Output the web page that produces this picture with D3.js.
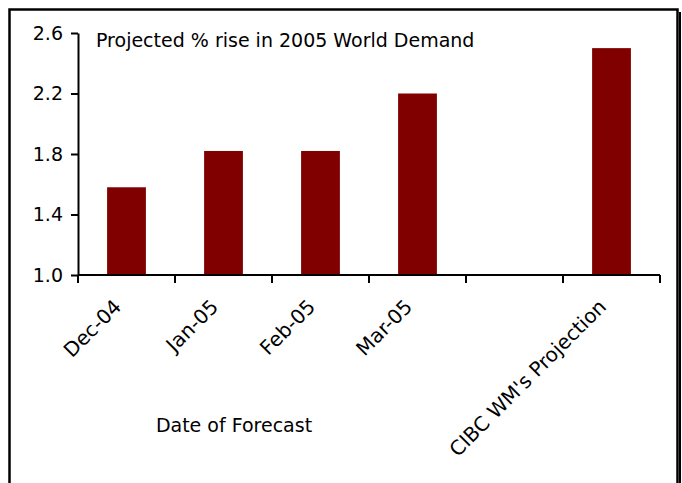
<!DOCTYPE html>
<html>
<head>
<meta charset="utf-8">
<script src="https://cdn.jsdelivr.net/npm/d3@7"></script>
<style>
  body { margin: 0; background: #fff; }
  svg { display: block; font-family: "DejaVu Sans", Verdana, sans-serif; }
</style>
</head>
<body>
<svg width="682" height="483"></svg>
<script>
// data
var categories = ["Dec-04", "Jan-05", "Feb-05", "Mar-05", "blank", "CIBC WM's Projection"];
var labels = ["Dec-04", "Jan-05", "Feb-05", "Mar-05", "", "CIBC WM's Projection"];
var values = [1.58, 1.82, 1.82, 2.2, null, 2.5];
var yTicks = [1.0, 1.4, 1.8, 2.2, 2.6];

var svg = d3.select("svg");
var fs = 19;

// outer frame + little shadow on the right
svg.append("rect")
    .attr("x", 9.5).attr("y", 9.5)
    .attr("width", 668).attr("height", 490)
    .attr("fill", "none")
    .attr("stroke", "#000")
    .attr("stroke-width", 2.5);
svg.append("line")
    .attr("x1", 680).attr("x2", 680)
    .attr("y1", 12).attr("y2", 483)
    .attr("stroke", "#000").attr("stroke-width", 2);

var plotLeft = 78, plotRight = 660, plotTop = 33, plotBottom = 275;

var x = d3.scaleBand()
    .domain(categories)
    .range([plotLeft, plotRight])
    .padding(0);

var y = d3.scaleLinear()
    .domain([1.0, 2.6])
    .range([plotBottom, plotTop]);

var barW = x.bandwidth() * 0.4;

svg.selectAll("rect.bar")
    .data(values.map(function (v, i) { return {c: categories[i], v: v}; })
        .filter(function (d) { return d.v != null; }))
    .enter()
    .append("rect")
    .attr("class", "bar")
    .attr("x", function (d) { return x(d.c) + (x.bandwidth() - barW) / 2; })
    .attr("y", function (d) { return y(d.v); })
    .attr("width", barW)
    .attr("height", function (d) { return y(1.0) - y(d.v); })
    .attr("fill", "#800000");

// y axis
var yAxis = d3.axisLeft(y)
    .tickValues(yTicks)
    .tickFormat(d3.format(".1f"))
    .tickSize(7)
    .tickSizeOuter(0)
    .tickPadding(8);

var gy = svg.append("g")
    .attr("transform", "translate(" + plotLeft + ",0)")
    .call(yAxis);
gy.select(".domain").attr("stroke-width", 2);
gy.selectAll(".tick line").attr("stroke-width", 2);
gy.selectAll("text").attr("font-size", fs).attr("fill", "#000")
    .attr("font-family", "DejaVu Sans");

// x axis line and boundary ticks
var edges = categories.map(function (c) { return x(c); }).concat([plotRight]);
svg.append("line")
    .attr("x1", plotLeft).attr("x2", plotRight)
    .attr("y1", plotBottom).attr("y2", plotBottom)
    .attr("stroke", "#000").attr("stroke-width", 2);
svg.selectAll("line.xtick")
    .data(edges)
    .enter()
    .append("line")
    .attr("class", "xtick")
    .attr("x1", function (d) { return d; })
    .attr("x2", function (d) { return d; })
    .attr("y1", plotBottom).attr("y2", plotBottom + 8)
    .attr("stroke", "#000").attr("stroke-width", 2);

// rotated category labels
svg.selectAll("text.xlab")
    .data(categories)
    .enter()
    .append("text")
    .attr("class", "xlab")
    .attr("text-anchor", "end")
    .attr("font-size", 20)
    .attr("transform", function (d) {
        return "translate(" + (x(d) + x.bandwidth() / 2 - 4) + "," + (plotBottom + 33) + ") rotate(-45)";
    })
    .text(function (d, i) { return labels[i]; });

// titles
svg.append("text")
    .attr("x", 96).attr("y", 47)
    .attr("font-size", fs)
    .text("Projected % rise in 2005 World Demand");

svg.append("text")
    .attr("x", 234).attr("y", 432)
    .attr("text-anchor", "middle")
    .attr("font-size", fs)
    .text("Date of Forecast");
</script>
</body>
</html>
